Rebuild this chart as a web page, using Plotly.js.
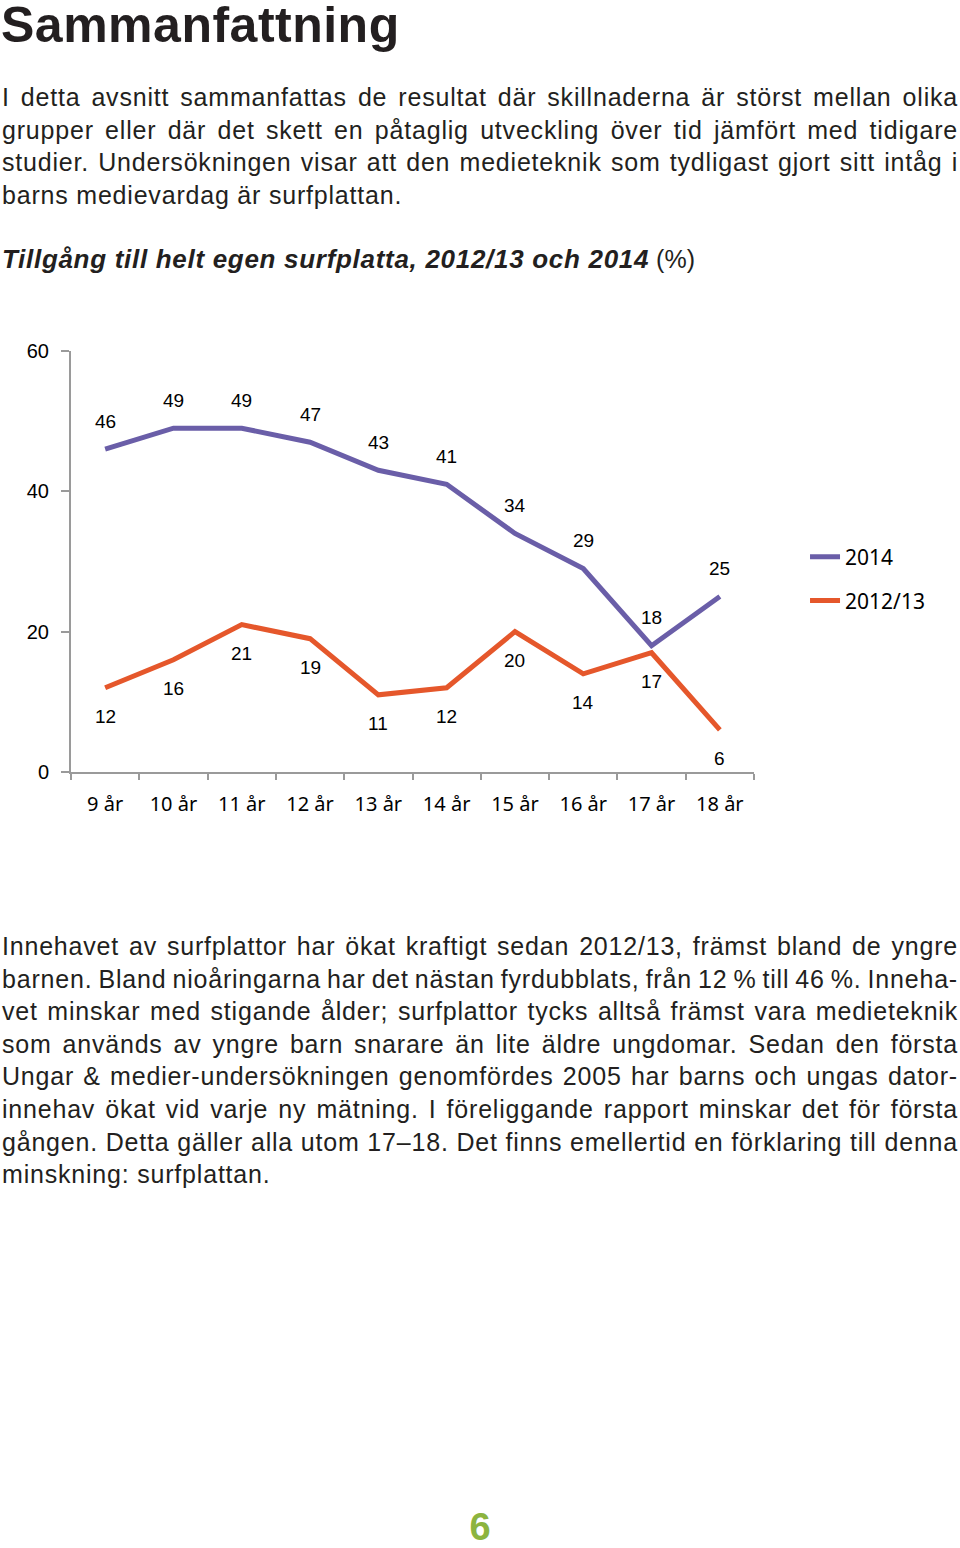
<!DOCTYPE html>
<html>
<head>
<meta charset="utf-8">
<script src="https://cdn.plot.ly/plotly-3.0.1.min.js"></script>
<style>
  html, body { margin: 0; padding: 0; background: #fff; }
  body { width: 960px; height: 1548px; position: relative; overflow: hidden; font-family: "Liberation Sans", Arial, sans-serif; color: #231f20; }
  .h1 { position: absolute; left: 1px; top: 0px; font-size: 50px; line-height: 50px; font-weight: bold; letter-spacing: 0.5px; color: #231f20; white-space: nowrap; }
  .para { position: absolute; left: 2px; width: 956px; font-size: 25px; line-height: 32.6px; letter-spacing: 0.8px; word-spacing: -2.5px; }
  .para div { text-align: justify; text-align-last: justify; white-space: nowrap; }
  .para div.last { text-align-last: left; word-spacing: 0; }
  .ctitle { position: absolute; left: 2px; top: 244px; font-size: 25px; white-space: nowrap; }
  .ctitle b { font-style: italic; font-weight: bold; font-size: 26px; letter-spacing: 0.7px; }
  #chart { position: absolute; left: 0; top: 300px; width: 960px; height: 560px; }
  .pnum { position: absolute; left: 0; width: 960px; text-align: center; top: 1506px; font-size: 38px; font-weight: bold; color: #8cb43f; }
</style>
</head>
<body>
<div class="h1">Sammanfattning</div>
<div class="para" style="top:81px">
  <div>I detta avsnitt sammanfattas de resultat där skillnaderna är störst mellan olika</div>
  <div>grupper eller där det skett en påtaglig utveckling över tid jämfört med tidigare</div>
  <div>studier. Undersökningen visar att den medieteknik som tydligast gjort sitt intåg i</div>
  <div class="last">barns medievardag är surfplattan.</div>
</div>
<div class="ctitle"><b>Tillgång till helt egen surfplatta, 2012/13 och 2014</b> (%)</div>
<div id="chart"></div>
<div class="para" style="top:930px">
  <div>Innehavet av surfplattor har ökat kraftigt sedan 2012/13, främst bland de yngre</div>
  <div>barnen. Bland nioåringarna har det nästan fyrdubblats, från 12 % till 46 %. Inneha-</div>
  <div>vet minskar med stigande ålder; surfplattor tycks alltså främst vara medieteknik</div>
  <div>som används av yngre barn snarare än lite äldre ungdomar. Sedan den första</div>
  <div>Ungar &amp; medier-undersökningen genomfördes 2005 har barns och ungas dator-</div>
  <div>innehav ökat vid varje ny mätning. I föreliggande rapport minskar det för första</div>
  <div>gången. Detta gäller alla utom 17–18. Det finns emellertid en förklaring till denna</div>
  <div class="last">minskning: surfplattan.</div>
</div>
<div class="pnum">6</div>
<script>
const categories = ["9 år", "10 år", "11 år", "12 år", "13 år", "14 år", "15 år", "16 år", "17 år", "18 år"];
const values2014 = [46, 49, 49, 47, 43, 41, 34, 29, 18, 25];
const values2012 = [12, 16, 21, 19, 11, 12, 20, 14, 17, 6];
const yTicks = [0, 20, 40, 60];

const purple = "#6a5ea8";
const orange = "#e5572b";

const traces = [
  { x: categories, y: values2014, name: "2014", type: "scatter", mode: "lines",
    line: { color: purple, width: 5 }, hoverinfo: "skip", legend: "legend" },
  { x: categories, y: values2012, name: "2012/13", type: "scatter", mode: "lines",
    line: { color: orange, width: 5 }, hoverinfo: "skip", legend: "legend2" }
];

const labelFont = { family: "Liberation Sans, Arial, sans-serif", size: 19, color: "#000" };
const annotations = [];
categories.forEach((c, i) => {
  annotations.push({ x: c, y: values2014[i], text: String(values2014[i]), showarrow: false,
    yshift: 28, font: labelFont, xanchor: "center", yanchor: "middle" });
  annotations.push({ x: c, y: values2012[i], text: String(values2012[i]), showarrow: false,
    yshift: -29, font: labelFont, xanchor: "center", yanchor: "middle" });
});

const legendFont = { family: "Noto Sans, Liberation Sans, sans-serif", size: 21, color: "#000" };
const layout = {
  width: 960, height: 560,
  margin: { l: 71, r: 206, t: 51, b: 88 },
  paper_bgcolor: "#fff", plot_bgcolor: "#fff",
  showlegend: true,
  legend: { x: 1.0747, xanchor: "left", y: 0.559, yanchor: "top", font: legendFont, bgcolor: "rgba(0,0,0,0)" },
  legend2: { x: 1.0747, xanchor: "left", y: 0.455, yanchor: "top", font: legendFont, bgcolor: "rgba(0,0,0,0)" },
  xaxis: {
    type: "category", range: [-0.5, 9.5], showline: true, linecolor: "#9a9a9a", linewidth: 2,
    ticks: "outside", tickson: "boundaries", ticklen: 6, tickcolor: "#9a9a9a", tickwidth: 2,
    showgrid: false, zeroline: false,
    tickfont: { family: "Noto Sans, Liberation Sans, sans-serif", size: 20, color: "#000" },
    ticklabelstandoff: 13, fixedrange: true
  },
  yaxis: {
    range: [0, 60], tickvals: yTicks, ticktext: yTicks.map(String),
    showline: true, linecolor: "#9a9a9a", linewidth: 2,
    ticks: "outside", ticklen: 8, tickcolor: "#9a9a9a", tickwidth: 2,
    showgrid: false, zeroline: false,
    tickfont: { family: "Liberation Sans, Arial, sans-serif", size: 20, color: "#000" },
    ticklabelstandoff: 8, fixedrange: true
  },
  annotations: annotations
};

Plotly.newPlot("chart", traces, layout, { displayModeBar: false, staticPlot: true });
</script>
</body>
</html>
